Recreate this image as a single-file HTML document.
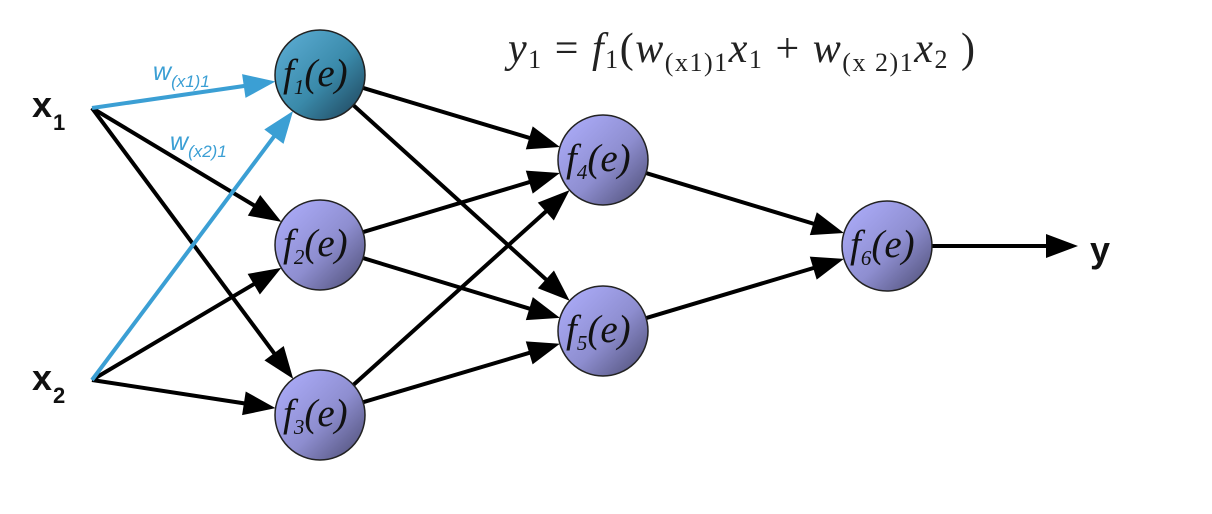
<!DOCTYPE html>
<html><head><meta charset="utf-8"><style>
html,body{margin:0;padding:0;background:#fff;width:1212px;height:514px;overflow:hidden}
svg{display:block}
.nt{font-family:"Liberation Serif",serif;font-style:italic;font-size:39px;fill:#111}
.sub{font-size:21px}
</style></head><body>
<svg id="s" width="1212" height="514" viewBox="0 0 1212 514">
<defs>
<linearGradient id="gp" x1="0" y1="0" x2="1" y2="1">
<stop offset="0" stop-color="#b0b0ff"/><stop offset="0.55" stop-color="#8e8ed0"/><stop offset="1" stop-color="#4a4a70"/>
</linearGradient>
<linearGradient id="gb" x1="0" y1="0" x2="1" y2="1">
<stop offset="0" stop-color="#5fb0d8"/><stop offset="0.55" stop-color="#3a8aaa"/><stop offset="1" stop-color="#1d3f55"/>
</linearGradient>
</defs>
<g id="edges"></g>
<g id="nodes"></g>
<text x="32" y="117" font-family="Liberation Sans,sans-serif" font-weight="bold" font-size="36" fill="#111">x</text>
<text x="53" y="130" font-family="Liberation Sans,sans-serif" font-weight="bold" font-size="22" fill="#111">1</text>
<text x="32" y="390" font-family="Liberation Sans,sans-serif" font-weight="bold" font-size="36" fill="#111">x</text>
<text x="53" y="403" font-family="Liberation Sans,sans-serif" font-weight="bold" font-size="22" fill="#111">2</text>
<text x="1090" y="262" font-family="Liberation Sans,sans-serif" font-weight="bold" font-size="36" fill="#111">y</text>
<text x="153" y="80" font-family="Liberation Sans,sans-serif" font-style="italic" font-size="25" fill="#3b9fd4">w<tspan font-size="17" dy="7">(x1)1</tspan></text>
<text x="170" y="150" font-family="Liberation Sans,sans-serif" font-style="italic" font-size="25" fill="#3b9fd4">w<tspan font-size="17" dy="7">(x2)1</tspan></text>
<text x="508" y="62" font-family="Liberation Serif,serif" font-size="42" fill="#222" textLength="467" lengthAdjust="spacing"><tspan font-style="italic">y</tspan><tspan font-size="26" dy="6">1</tspan><tspan dy="-6"> = </tspan><tspan font-style="italic">f</tspan><tspan font-size="26" dy="6">1</tspan><tspan dy="-6">(</tspan><tspan font-style="italic">w</tspan><tspan font-size="26" dy="9">(x1)1</tspan><tspan font-style="italic" dy="-9">x</tspan><tspan font-size="26" dy="6">1</tspan><tspan dy="-6"> + </tspan><tspan font-style="italic">w</tspan><tspan font-size="26" dy="9">(x 2)1</tspan><tspan font-style="italic" dy="-9">x</tspan><tspan font-size="26" dy="6">2</tspan><tspan dy="-6"> )</tspan></text>
</svg>
<script>
var N={1:[320,75],2:[320,245],3:[320,415],4:[603,160],5:[603,331],6:[887,246]};
var R=45,ns="http://www.w3.org/2000/svg";
var E=document.getElementById('edges'),G=document.getElementById('nodes');
function arrow(x1,y1,x2,y2,c){
 var dx=x2-x1,dy=y2-y1,L=Math.hypot(dx,dy),ux=dx/L,uy=dy/L;
 var hl=32,hw=12,bx=x2-ux*hl,by=y2-uy*hl;
 var l=document.createElementNS(ns,'line');
 l.setAttribute('x1',x1);l.setAttribute('y1',y1);l.setAttribute('x2',bx+ux*2);l.setAttribute('y2',by+uy*2);
 l.setAttribute('stroke',c);l.setAttribute('stroke-width',4);E.appendChild(l);
 var p=document.createElementNS(ns,'polygon');
 p.setAttribute('points',x2+','+y2+' '+(bx-uy*hw)+','+(by+ux*hw)+' '+(bx+uy*hw)+','+(by-ux*hw));
 p.setAttribute('fill',c);E.appendChild(p);
}
function edge(a,b,c){
 var dx=b[0]-a[0],dy=b[1]-a[1],L=Math.hypot(dx,dy);
 arrow(a[0]+(a.r?dx/L*R:0),a[1]+(a.r?dy/L*R:0),b[0]-dx/L*R,b[1]-dy/L*R,c);
}
function nd(k){var v=N[k].slice();v.r=1;return v;}
var X1=[92,108],X2=[92,380];
edge(X1,nd(2),'#000');edge(X1,nd(3),'#000');
edge(X2,nd(2),'#000');edge(X2,nd(3),'#000');
edge(X1,nd(1),'#3b9fd4');edge(X2,nd(1),'#3b9fd4');
[[1,4],[1,5],[2,4],[2,5],[3,4],[3,5],[4,6],[5,6]].forEach(function(e){edge(nd(e[0]),nd(e[1]),'#000');});
arrow(932,246,1078,246,'#000');
for(var k=1;k<=6;k++){
 var c=document.createElementNS(ns,'circle');
 c.setAttribute('cx',N[k][0]);c.setAttribute('cy',N[k][1]);c.setAttribute('r',R);
 c.setAttribute('fill',k==1?'url(#gb)':'url(#gp)');c.setAttribute('stroke','#222');c.setAttribute('stroke-width',1.5);
 G.appendChild(c);
 var t=document.createElementNS(ns,'text');
 t.setAttribute('x',N[k][0]-37);t.setAttribute('y',N[k][1]+11);t.setAttribute('class','nt');
 t.innerHTML='f<tspan class="sub" dy="8">'+k+'</tspan><tspan dy="-8">(e)</tspan>';
 G.appendChild(t);
}
</script>
</body></html>
